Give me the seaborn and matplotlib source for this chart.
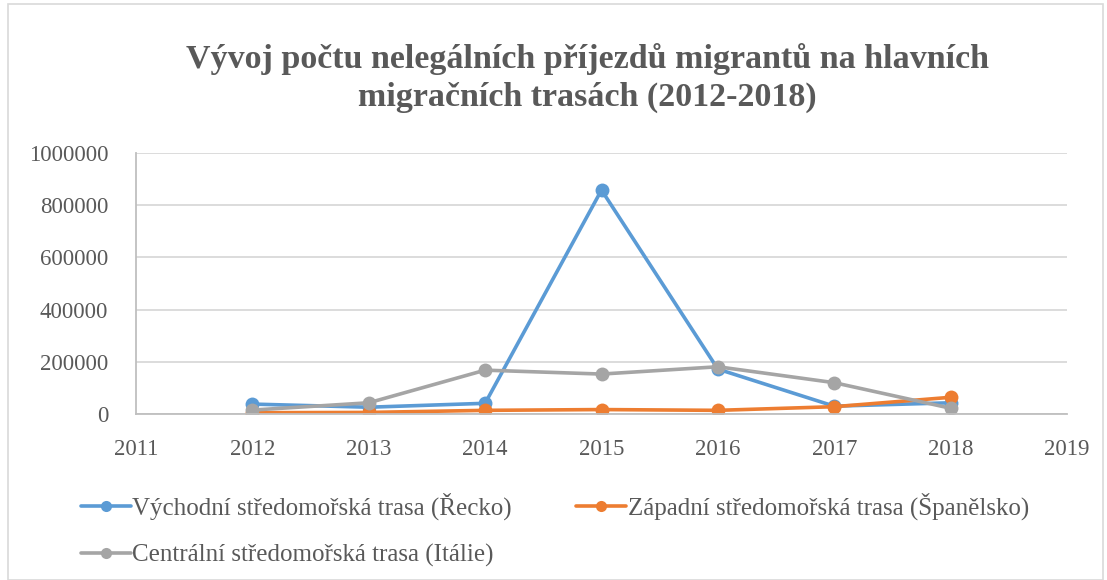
import pandas as pd
import seaborn as sns
import matplotlib.pyplot as plt
from matplotlib.patches import Rectangle
from matplotlib.ticker import FuncFormatter

years = [2012, 2013, 2014, 2015, 2016, 2017, 2018]
vychodni = [38000, 26000, 41000, 858000, 172000, 30000, 43000]
zapadni = [5000, 6000, 14000, 17000, 14000, 28000, 64000]
centralni = [15000, 43000, 168000, 153000, 181000, 120000, 22000]
series = [
    "Východní středomořská trasa (Řecko)",
    "Západní středomořská trasa (Španělsko)",
    "Centrální středomořská trasa (Itálie)",
]
colors = ["#5B9BD5", "#ED7D31", "#A5A5A5"]

df = pd.DataFrame({
    "Rok": years * 3,
    "Počet": vychodni + zapadni + centralni,
    "Trasa": [series[0]] * 7 + [series[1]] * 7 + [series[2]] * 7,
})

sns.set_style("white")
plt.rcParams["font.family"] = ["Liberation Serif", "DejaVu Serif"]

fig = plt.figure(figsize=(11.07, 5.8), dpi=100)
ax = fig.add_axes([136 / 1107, 1 - 414 / 580, (1067 - 136) / 1107, (414 - 153) / 580])

sns.lineplot(data=df, x="Rok", y="Počet", hue="Trasa", palette=colors,
             marker="o", markersize=10, markeredgewidth=0, linewidth=2.6, ax=ax)

ax.set_xlim(2011, 2019)
ax.set_ylim(0, 1000000)
ax.set_xticks(range(2011, 2020))
ax.set_yticks(range(0, 1000001, 200000))
ax.yaxis.set_major_formatter(FuncFormatter(lambda v, p: f"{int(v)}"))
ax.yaxis.grid(True, color="#D9D9D9", linewidth=1.3)
ax.set_axisbelow(True)
ax.set_xlabel("")
ax.set_ylabel("")
for s in ["top", "right"]:
    ax.spines[s].set_visible(False)
for s in ["left", "bottom"]:
    ax.spines[s].set_color("#BFBFBF")
    ax.spines[s].set_linewidth(1.3)
ax.tick_params(axis="both", colors="#BFBFBF", labelcolor="#595959",
               labelsize=16.5, length=6, width=1.3, direction="out")
ax.tick_params(axis="x", pad=12)
ax.tick_params(axis="y", pad=14)

handles, labels = ax.get_legend_handles_labels()
order = [0, 2, 1]
leg = ax.legend([handles[i] for i in order], [labels[i] for i in order],
                loc="upper left", bbox_to_anchor=(-78 / 931, -0.215),
                ncol=2, frameon=False, fontsize=18, handlelength=2.0,
                handletextpad=0.05, columnspacing=2.6, labelspacing=0.95,
                labelcolor="#595959")
for h in leg.legend_handles:
    h.set_markersize(8)

fig.text(587 / 1107, 1 - 78 / 580,
         "Vývoj počtu nelegálních příjezdů migrantů na hlavních\nmigračních trasách (2012-2018)",
         ha="center", va="center", fontsize=24.5, fontweight="bold",
         color="#595959", linespacing=1.3)

fig.patches.append(Rectangle((8 / 1107, 0), 1095 / 1107, 1 - 4 / 580, transform=fig.transFigure,
                             fill=False, edgecolor="#D9D9D9", linewidth=1.2))

fig.savefig("out.png", dpi=100)
